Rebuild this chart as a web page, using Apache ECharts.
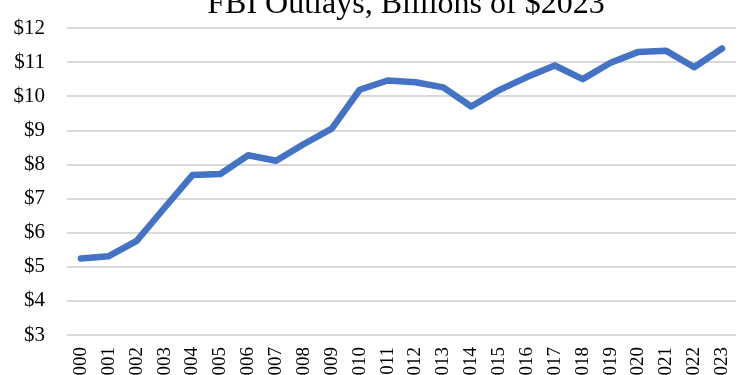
<!DOCTYPE html>
<html>
<head>
<meta charset="utf-8">
<script src="https://cdn.jsdelivr.net/npm/echarts@6/dist/echarts.min.js"></script>
<style>
  html, body { margin: 0; padding: 0; background: #fff; }
  #chart { width: 747px; height: 375px; }
</style>
</head>
<body>
<div id="chart"></div>
<script>
// 年份
const years = ['2000', '2001', '2002', '2003', '2004', '2005', '2006', '2007', '2008', '2009', '2010', '2011',
  '2012', '2013', '2014', '2015', '2016', '2017', '2018', '2019', '2020', '2021', '2022', '2023'];
// FBI outlays, billions of 2023 dollars
const outlays = [5.24, 5.31, 5.76, 6.73, 7.69, 7.72, 8.27, 8.11, 8.6, 9.05, 10.19, 10.46,
  10.41, 10.26, 9.7, 10.18, 10.56, 10.9, 10.5, 10.98, 11.3, 11.33, 10.85, 11.4];
const yMin = 3;
const yMax = 12;

const chart = echarts.init(document.getElementById('chart'));

const option = {
  backgroundColor: '#fff',
  animation: false,
  title: {
    text: 'FBI Outlays, Billions of $2023',
    left: 401,
    textAlign: 'center',
    top: -16,
    textStyle: {
      fontFamily: 'Liberation Serif',
      fontSize: 32,
      fontWeight: 'normal',
      color: '#000'
    }
  },
  grid: {
    left: 67,
    right: 11,
    top: 28,
    bottom: 40,
    containLabel: false,
    outerBoundsMode: 'none'
  },
  xAxis: {
    type: 'category',
    data: years,
    boundaryGap: true,
    axisLine: { show: false },
    axisTick: { show: false },
    axisLabel: {
      rotate: 90,
      margin: 12,
      fontFamily: 'Liberation Serif',
      fontSize: 19,
      color: '#000'
    }
  },
  yAxis: {
    type: 'value',
    min: yMin,
    max: yMax,
    interval: 1,
    axisLine: { show: false },
    axisTick: { show: false },
    axisLabel: {
      margin: 22,
      fontFamily: 'Liberation Serif',
      fontSize: 21,
      color: '#000',
      formatter: v => '$' + v
    },
    splitLine: {
      lineStyle: { color: '#cccccc', width: 1.5 }
    }
  },
  series: [
    {
      name: 'FBI Outlays',
      type: 'line',
      data: outlays,
      symbol: 'none',
      lineStyle: {
        color: '#4472c4',
        width: 6.5,
        cap: 'round',
        join: 'round'
      }
    }
  ]
};

chart.setOption(option);
</script>
</body>
</html>
